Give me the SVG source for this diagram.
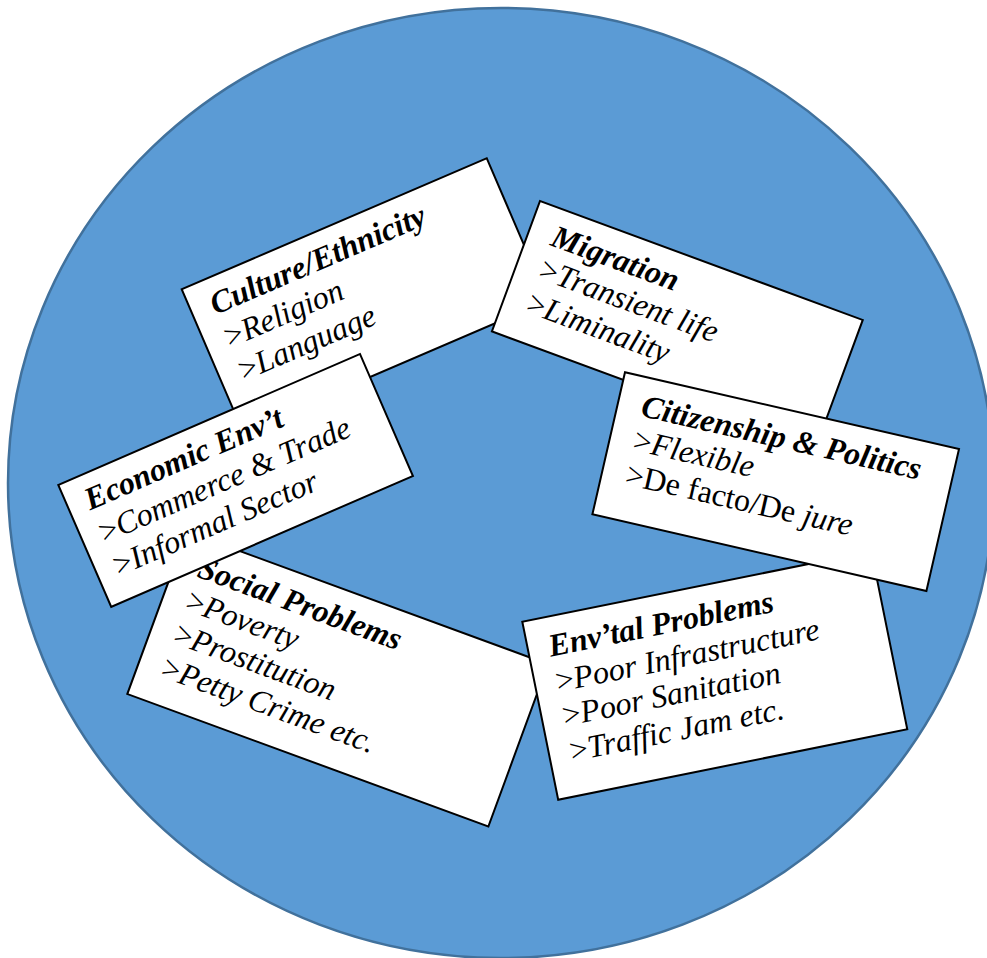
<svg xmlns="http://www.w3.org/2000/svg" width="987" height="958" viewBox="0 0 987 958">
  <style>
    .disc { fill: #5B9BD5; stroke: #41719C; stroke-width: 2.5; }
    .card { fill: #FFFFFF; stroke: #000000; stroke-width: 2; }
    text { font-family: "Liberation Serif", "Times New Roman", serif; font-size: 32px; fill: #000000; }
    .title { font-weight: bold; font-style: italic; }
    .item { font-style: italic; }
    .up { font-style: normal; }
  </style>

  <!-- background disc -->
  <ellipse class="disc" cx="501" cy="483" rx="493" ry="475"/>

  <g id="culture" transform="translate(181.7 289.3) rotate(-23.25)">
    <rect class="card" width="332" height="155"/>
    <text class="title" x="21" y="37">Culture/Ethnicity</text>
    <text class="item" x="21" y="73"><tspan class="up">&gt;</tspan>Religion</text>
    <text class="item" x="21" y="109"><tspan class="up">&gt;</tspan>Language</text>
  </g>

  <g id="migration" transform="translate(540 201) rotate(20.24)">
    <rect class="card" width="344" height="139"/>
    <text class="title" x="24" y="38">Migration</text>
    <text class="item" x="24" y="73"><tspan class="up">&gt;</tspan>Transient life</text>
    <text class="item" x="24" y="109"><tspan class="up">&gt;</tspan>Liminality</text>
  </g>

  <g id="social" transform="translate(186.9 531.6) rotate(20.15)">
    <rect class="card" width="384.6" height="173"/>
    <text class="title" x="24" y="39">Social Problems</text>
    <text class="item" x="24" y="74"><tspan class="up">&gt;</tspan>Poverty</text>
    <text class="item" x="24" y="109"><tspan class="up">&gt;</tspan>Prostitution</text>
    <text class="item" x="24" y="145"><tspan class="up">&gt;</tspan>Petty Crime etc.</text>
  </g>

  <g id="envtal" transform="translate(522.3 621.7) rotate(-11.4)">
    <rect class="card" width="356.1" height="181.6"/>
    <text class="title" x="21" y="40">Env’tal Problems</text>
    <text class="item" x="21" y="76"><tspan class="up">&gt;</tspan>Poor Infrastructure</text>
    <text class="item" x="21" y="111"><tspan class="up">&gt;</tspan>Poor Sanitation</text>
    <text class="item" x="21" y="147"><tspan class="up">&gt;</tspan>Traffic Jam etc.</text>
  </g>

  <g id="citizenship" transform="translate(625 372.3) rotate(12.93)">
    <rect class="card" width="342.7" height="145.7"/>
    <text class="title" x="24" y="39">Citizenship &amp; Politics</text>
    <text class="item" x="24" y="74"><tspan class="up">&gt;</tspan>Flexible</text>
    <text class="item" x="24" y="109"><tspan class="up">&gt;De facto/De </tspan>jure</text>
  </g>

  <g id="economic" transform="translate(58.3 485) rotate(-23.47)">
    <rect class="card" width="328.9" height="132.9"/>
    <text class="title" x="19" y="36">Economic Env’t</text>
    <text class="item" x="19" y="72"><tspan class="up">&gt;</tspan>Commerce &amp; Trade</text>
    <text class="item" x="19" y="108"><tspan class="up">&gt;</tspan>Informal Sector</text>
  </g>
</svg>
